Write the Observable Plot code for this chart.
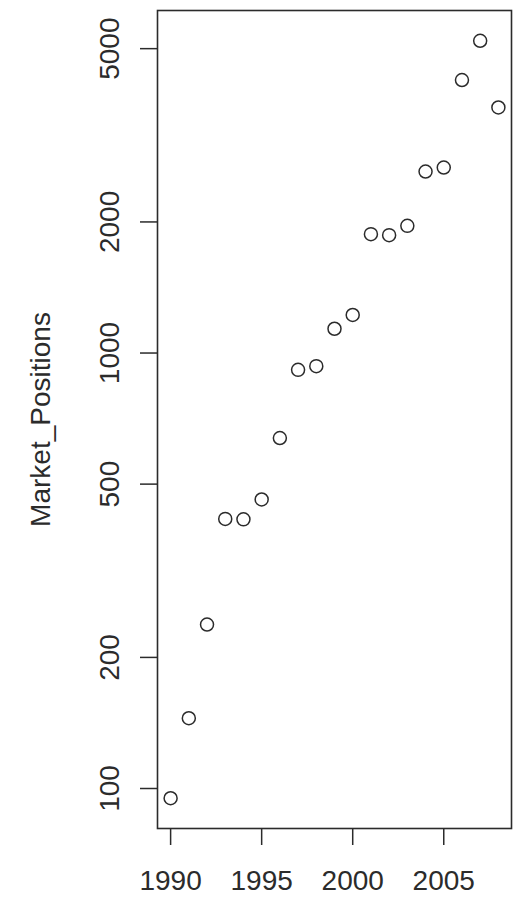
<!DOCTYPE html>
<html>
<head>
<meta charset="utf-8">
<script src="https://cdn.jsdelivr.net/npm/d3@7"></script>
<script src="https://cdn.jsdelivr.net/npm/@observablehq/plot@0.6"></script>
<style>
  html, body { margin: 0; padding: 0; background: #fff; }
  #chart svg { display: block; }
</style>
</head>
<body>
<div id="chart"></div>
<script>
// Market positions per year (log scale)
const years = [1990, 1991, 1992, 1993, 1994, 1995, 1996, 1997, 1998, 1999,
               2000, 2001, 2002, 2003, 2004, 2005, 2006, 2007, 2008];
const marketPositions = [95, 145, 238, 416, 415, 461, 638, 915, 933, 1137,
                         1223, 1875, 1865, 1959, 2611, 2667, 4236, 5212, 3664];
const xTicks = [1990, 1995, 2000, 2005];
const yTicks = [100, 200, 500, 1000, 2000, 5000];

const data = years.map((year, i) => ({year, value: marketPositions[i]}));

// Pad the data range by 4% on each side, like a base R plot
const pad = ([lo, hi]) => [lo - (hi - lo) * 0.04, hi + (hi - lo) * 0.04];
const xDomain = pad(d3.extent(years));
const yDomain = pad(d3.extent(marketPositions).map(Math.log10)).map(v => 10 ** v);

const ink = "#2b2b2b";
const font = "'Liberation Sans', Arial, Helvetica, sans-serif";

const chart = Plot.plot({
  width: 515,
  height: 899,
  marginLeft: 157,
  marginRight: 4,
  marginTop: 10,
  marginBottom: 71,
  style: {fontFamily: font, fontSize: "28px", color: ink, background: "#fff"},
  x: {domain: xDomain, ticks: xTicks},
  y: {type: "log", domain: yDomain, ticks: yTicks},
  marks: [
    Plot.frame({stroke: ink, strokeWidth: 1.6}),
    Plot.axisX({
      ticks: xTicks, tickSize: 17, tickPadding: 25, tickFormat: d => String(d),
      stroke: ink, strokeWidth: 1.5, fill: ink, fontSize: 28, label: null
    }),
    Plot.axisY({
      ticks: yTicks, tickSize: 17, tickPadding: 22, tickRotate: -90,
      tickFormat: d => String(d), stroke: ink, strokeWidth: 1.5, fill: ink,
      fontSize: 28, label: null
    }),
    Plot.text(["Market_Positions"], {
      frameAnchor: "left", dx: -127, rotate: -90, text: d => d,
      fontSize: 28, fill: ink, lineAnchor: "top", textAnchor: "middle"
    }),
    Plot.dot(data, {
      x: "year", y: "value", r: 6.5, stroke: ink, strokeWidth: 1.5, fill: "none"
    })
  ]
});

document.getElementById("chart").append(chart);
</script>
</body>
</html>
